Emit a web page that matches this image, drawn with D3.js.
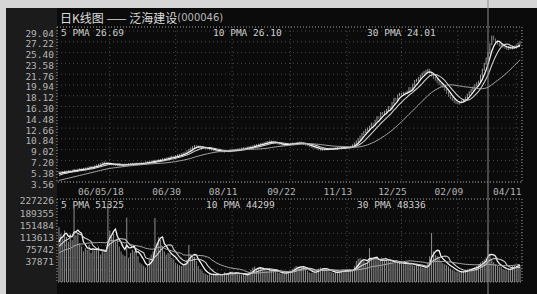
<!DOCTYPE html>
<html>
<head>
<meta charset="utf-8">
<script src="https://cdn.jsdelivr.net/npm/d3@7"></script>
<style>
body { margin: 0; background: #d6d6d6; }
svg { display: block; font-family: "DejaVu Sans Mono", monospace; }
</style>
</head>
<body>
<div id="chart"></div>
<script>
const titleText = "日K线图 —— 泛海建设"
const codeText = "(000046)"

// closes before the visible window, only used for the moving averages
const preCloses = [2.90, 2.95, 3.02, 3.00, 3.08, 3.15, 3.12, 3.20, 3.28, 3.35, 3.32, 3.40, 3.48, 3.55, 3.62,
    3.70, 3.78, 3.85, 3.92, 4.05, 4.15, 4.28, 4.40, 4.52, 4.65, 4.78, 4.90, 5.02, 5.10]

const closes = [
    5.20, 5.12, 5.25, 5.31, 5.28, 5.40, 5.35, 5.47, 5.60,
    5.55, 5.63, 5.71, 5.66, 5.78, 5.84, 5.90,
    6.02, 6.10, 6.05, 6.21, 6.35, 6.48, 6.60, 6.72, 6.85,
    6.70, 6.62, 6.55, 6.60, 6.48, 6.41, 6.50, 6.38, 6.40,
    6.45, 6.52, 6.48, 6.60, 6.55, 6.62, 6.58, 6.65, 6.60,
    6.68, 6.75, 6.72, 6.85, 6.90, 6.95, 7.02,
    7.08, 7.15, 7.12, 7.25, 7.30, 7.38, 7.45, 7.52, 7.60,
    7.70, 7.82, 7.78, 7.95, 8.05, 8.12, 8.25, 8.38, 8.50,
    8.75, 8.98, 9.20, 9.45, 9.62,
    9.50, 9.55, 9.38, 9.42, 9.30, 9.25, 9.20,
    9.10, 9.02, 8.95, 8.88, 8.80, 8.85, 8.72, 8.70,
    8.78, 8.82, 8.75, 8.90, 8.95, 8.88, 9.00, 9.05, 9.10,
    9.18, 9.25, 9.22, 9.35, 9.42, 9.50, 9.60,
    9.70, 9.78, 9.85, 9.95, 10.02, 10.10, 10.22, 10.30, 10.40,
    10.32, 10.25, 10.15, 10.08, 9.95, 9.88, 9.80,
    9.85, 9.92, 9.90, 10.00, 10.05, 10.02, 10.12, 10.18, 10.20,
    10.10, 9.98, 9.85, 9.78, 9.62, 9.50,
    9.40, 9.30, 9.22, 9.10, 9.00,
    9.05, 9.12, 9.08, 9.15, 9.18, 9.12, 9.20,
    9.25, 9.30, 9.28, 9.35, 9.40, 9.38, 9.45, 9.42, 9.50,
    9.75, 10.05, 10.40,
    10.80, 11.20, 11.65, 12.00,
    12.35, 12.60, 12.90,
    13.40, 13.20, 13.90, 14.50, 14.30, 15.20,
    15.05, 15.40, 15.70,
    16.20, 16.00, 16.90, 17.60, 17.40, 18.20,
    18.45, 18.30, 18.60, 18.55, 18.80,
    19.40, 19.10, 20.00, 20.60, 20.80,
    21.10, 21.50, 21.85, 22.10, 22.30, 22.50,
    22.00, 21.50, 21.10,
    20.80, 20.40, 20.10, 19.85, 19.60,
    19.10, 18.60, 18.10, 17.70,
    17.40, 17.10, 16.90, 16.80,
    17.00, 17.20, 17.40,
    17.80, 18.30, 18.70, 19.10,
    19.50, 19.90, 20.20, 20.50,
    21.50, 22.50, 23.50, 24.40, 25.30,
    26.80, 28.10,
    27.60, 27.20, 26.90, 26.60, 26.70,
    26.40, 26.20, 26.00, 26.30, 26.10,
    26.40, 26.20, 26.60, 26.90, 27.20
]

const preVolumes = [60000, 70000, 65000, 75000, 80000, 72000, 68000, 85000, 90000, 78000, 82000, 95000, 88000, 70000,
    75000, 92000, 85000, 80000, 98000, 105000, 90000, 86000, 100000, 110000, 95000, 88000, 120000, 115000, 130000]

const volumes = [
    170000, 150000, 135000, 160000, 140000, 125000, 150000, 130000, 230000, 145000,
    150000, 120000, 110000, 95000, 105000, 100000, 115000, 90000, 105000, 98000,
    100000, 110000, 85000, 95000, 92000, 90000, 245000, 160000, 140000, 150000,
    125000, 135000, 110000, 95000, 85000, 80000, 200000, 75000, 90000, 100000,
    95000, 105000, 80000, 60000, 55000, 50000, 45000, 52000, 70000, 85000,
    95000, 199000, 120000, 140000, 130000, 110000, 95000, 85000, 90000, 88000,
    75000, 70000, 60000, 55000, 52000, 50000, 53000, 60000, 70000, 115000,
    85000, 80000, 78000, 65000, 50000, 40000, 35000, 28000, 25000, 22000,
    24000, 20000, 26000, 22000, 25000, 20000, 22000, 24000, 30000, 26000,
    28000, 32000, 25000, 28000, 30000, 26000, 24000, 22000, 25000, 20000,
    22000, 30000, 38000, 45000, 48000, 40000, 43000, 45000, 40000, 38000,
    37000, 35000, 40000, 36000, 37000, 32000, 30000, 28000, 26000, 30000,
    28000, 28000, 32000, 35000, 40000, 45000, 50000, 48000, 46000, 47000,
    47000, 40000, 35000, 30000, 28000, 28000, 32000, 38000, 42000, 45000,
    43000, 40000, 38000, 35000, 32000, 30000, 28000, 30000, 31000, 33000,
    35000, 38000, 36000, 37000, 35000, 36000, 37000, 50000, 65000, 72000,
    74000, 70000, 65000, 60000, 62000, 105000, 75000, 70000, 68000, 68000,
    65000, 70000, 72000, 66000, 68000, 70000, 64000, 60000, 58000, 62000,
    60000, 59000, 57000, 55000, 58000, 60000, 56000, 54000, 52000, 50000,
    53000, 50000, 48000, 45000, 43000, 43000, 60000, 80000, 152000, 95000,
    84000, 81000, 75000, 65000, 58000, 55000, 53000, 48000, 42000, 38000,
    35000, 32000, 31000, 30000, 31000, 33000, 36000, 40000, 42000, 41000,
    43000, 46000, 50000, 55000, 60000, 65000, 70000, 74000, 130000, 85000,
    70000, 62000, 55000, 50000, 48000, 47000, 40000, 38000, 36000, 40000,
    42000, 50000, 52000, 49000, 55000, 51000
]

const priceTicks = [29.04, 27.22, 25.40, 23.58, 21.76, 19.94, 18.12, 16.30, 14.48, 12.66, 10.84, 9.02, 7.20, 5.38, 3.56]
const volumeTicks = [227226, 189355, 151484, 113613, 75742, 37871]
const dateIndex = [27, 62, 92, 123, 153, 182, 212, 243]
const dateLabels = ["06/05/18", "06/30", "08/11", "09/22", "11/13", "12/25", "02/09", "04/11"]
const maPeriods = [5, 10, 30]
const priceMaLabels = ["5 PMA 26.69", "10 PMA 26.10", "30 PMA 24.01"]
const volumeMaLabels = ["5 PMA 51325", "10 PMA 44299", "30 PMA 48336"]
const cursorIndex = 228

const W = 537, H = 294
const frame = {left: 57, right: 522}
const pricePanel = {top: 27, bottom: 182}
const volPanel = {top: 199, bottom: 282}

const svg = d3.select("#chart").append("svg")
    .attr("width", W)
    .attr("height", H)

// scanned background: grey paper, black screen
svg.append("rect").attr("width", W).attr("height", H).attr("fill", "#d6d6d6")
svg.append("rect").attr("x", 6).attr("y", 8).attr("width", W - 6).attr("height", H - 8).attr("fill", "#1b1b1b")
svg.append("rect").attr("x", frame.left).attr("y", 8).attr("width", W - frame.left).attr("height", H - 8).attr("fill", "#0b0b0b")

const x = d3.scaleLinear()
    .domain([0, closes.length - 1])
    .range([59, 520])

const y = d3.scaleLinear()
    .domain([3.56, 29.04])
    .range([pricePanel.bottom, 31])

const yv = d3.scaleLinear()
    .domain([0, 227226])
    .range([volPanel.bottom, volPanel.bottom - 6 * 12.2])

function movingAverage(all, pre, n) {
    return all.slice(pre).map((d, i) => {
        const k = i + pre
        const win = all.slice(Math.max(0, k - n + 1), k + 1)
        return d3.mean(win)
    })
}

const allCloses = preCloses.concat(closes)
const allVolumes = preVolumes.concat(volumes)
const priceMA = maPeriods.map(n => movingAverage(allCloses, preCloses.length, n))
const volMA = maPeriods.map(n => movingAverage(allVolumes, preVolumes.length, n))

const maColors = ["#f2f2f2", "#cfcfcf", "#a8a8a8"]
const maWidths = [1.3, 1.1, 1]

// grid
const grid = svg.append("g")
grid.selectAll(".hp").data(priceTicks).join("line")
    .attr("x1", frame.left).attr("x2", frame.right)
    .attr("y1", d => y(d)).attr("y2", d => y(d))
    .attr("stroke", "#4a4a4a").attr("stroke-dasharray", "1,3")
grid.selectAll(".hv").data(volumeTicks).join("line")
    .attr("x1", frame.left).attr("x2", frame.right)
    .attr("y1", d => yv(d)).attr("y2", d => yv(d))
    .attr("stroke", "#4a4a4a").attr("stroke-dasharray", "1,3")
grid.selectAll(".vp").data(dateIndex).join("line")
    .attr("x1", d => x(d)).attr("x2", d => x(d))
    .attr("y1", pricePanel.top).attr("y2", pricePanel.bottom)
    .attr("stroke", "#4a4a4a").attr("stroke-dasharray", "1,3")
grid.selectAll(".vv").data(dateIndex).join("line")
    .attr("x1", d => x(d)).attr("x2", d => x(d))
    .attr("y1", volPanel.top).attr("y2", volPanel.bottom)
    .attr("stroke", "#4a4a4a").attr("stroke-dasharray", "1,3")

// candles (open = previous close)
const candles = closes.map((c, i) => ({i: i, o: i === 0 ? preCloses[preCloses.length - 1] : closes[i - 1], c: c}))
svg.append("g").selectAll("rect").data(candles).join("rect")
    .attr("x", d => x(d.i) - 0.5)
    .attr("width", 1)
    .attr("y", d => y(Math.max(d.o, d.c)) - 1)
    .attr("height", d => Math.abs(y(d.o) - y(d.c)) + 2)
    .attr("fill", d => d.c >= d.o ? "#9a9a9a" : "#7a7a7a")

// volume bars
svg.append("g").selectAll("line").data(volumes).join("line")
    .attr("x1", (d, i) => x(i)).attr("x2", (d, i) => x(i))
    .attr("y1", volPanel.bottom).attr("y2", d => yv(d))
    .attr("stroke", "#8e8e8e").attr("stroke-width", 1)

// moving average lines
priceMA.forEach((ma, k) => {
    svg.append("path")
        .datum(ma)
        .attr("d", d3.line().x((d, i) => x(i)).y(d => y(d)))
        .attr("fill", "none")
        .attr("stroke", maColors[k])
        .attr("stroke-width", maWidths[k])
})
volMA.forEach((ma, k) => {
    svg.append("path")
        .datum(ma)
        .attr("d", d3.line().x((d, i) => x(i)).y(d => yv(d)))
        .attr("fill", "none")
        .attr("stroke", maColors[k])
        .attr("stroke-width", maWidths[k])
})

// frames
;[pricePanel, volPanel].forEach(p => {
    svg.append("rect")
        .attr("x", frame.left).attr("y", p.top)
        .attr("width", frame.right - frame.left).attr("height", p.bottom - p.top)
        .attr("fill", "none").attr("stroke", "#a0a0a0").attr("stroke-dasharray", "1,2")
})

// cursor line
svg.append("line")
    .attr("x1", x(cursorIndex)).attr("x2", x(cursorIndex))
    .attr("y1", 0).attr("y2", H)
    .attr("stroke", "#8a8a8a").attr("stroke-width", 1)

// axis labels
svg.append("g").selectAll("text").data(priceTicks).join("text")
    .attr("x", 54).attr("y", d => y(d) + 2)
    .attr("text-anchor", "end").attr("dominant-baseline", "central")
    .attr("font-size", 9.5).attr("fill", "#b4b4b4")
    .text(d => d.toFixed(2))

svg.append("g").selectAll("text").data(volumeTicks).join("text")
    .attr("x", 54).attr("y", d => yv(d) - 8)
    .attr("text-anchor", "end").attr("dominant-baseline", "central")
    .attr("font-size", 9.5).attr("fill", "#b4b4b4")
    .text(d => d)

svg.append("g").selectAll("text").data(dateIndex).join("text")
    .attr("x", d => x(d) - 9).attr("y", 191)
    .attr("text-anchor", "middle").attr("dominant-baseline", "central")
    .attr("font-size", 9.5).attr("fill", "#b4b4b4")
    .text((d, i) => dateLabels[i])

// legends
const legendX = [61, 213, 367]
const volLegendX = [61, 206, 357]
svg.append("g").selectAll("text").data(priceMaLabels).join("text")
    .attr("x", (d, i) => legendX[i]).attr("y", 32)
    .attr("dominant-baseline", "central")
    .attr("font-size", 9.5).attr("fill", "#d0d0d0")
    .text(d => d)
svg.append("g").selectAll("text").data(volumeMaLabels).join("text")
    .attr("x", (d, i) => volLegendX[i]).attr("y", 204)
    .attr("dominant-baseline", "central")
    .attr("font-size", 9.5).attr("fill", "#d0d0d0")
    .text(d => d)

// title
const title = svg.append("text")
    .attr("x", 60).attr("y", 17)
    .attr("dominant-baseline", "central")
    .attr("font-family", "'Noto Sans CJK SC', sans-serif")
    .attr("font-size", 12).attr("fill", "#dcdcdc")
title.append("tspan").text(titleText)
title.append("tspan").attr("font-size", 10).attr("fill", "#b8b8b8").attr("font-family", "'DejaVu Sans', sans-serif").text(codeText)
</script>
</body>
</html>
